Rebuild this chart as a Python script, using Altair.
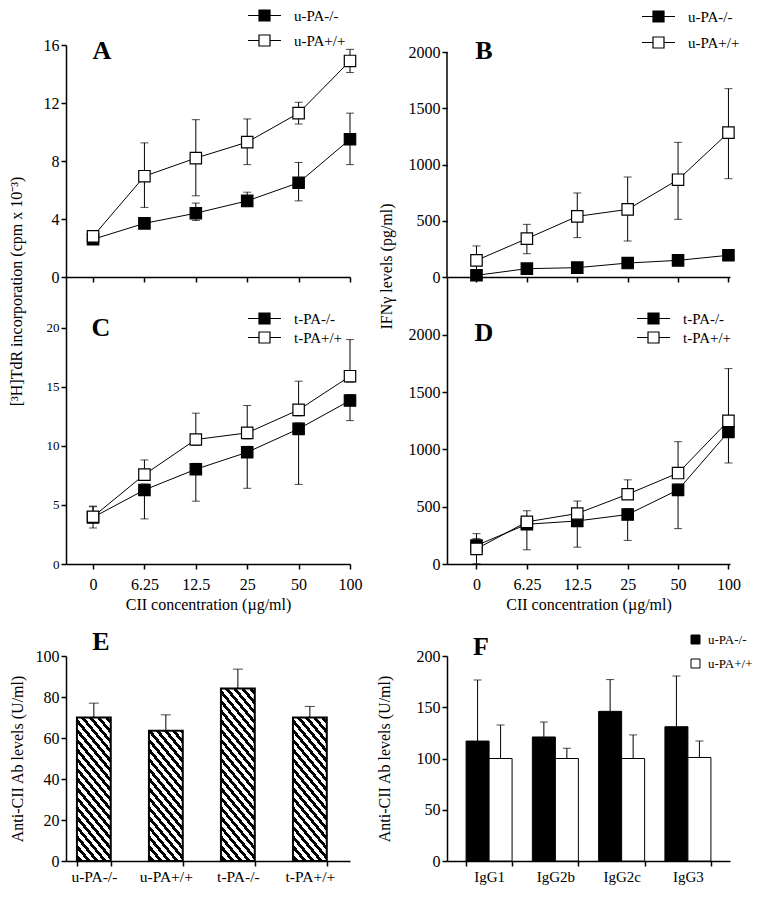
import altair as alt
import pandas as pd

FONT = "Liberation Serif"

# ---------------- data ----------------
conc = ["0", "6.25", "12.5", "25", "50", "100"]
upa_names = ["u-PA-/-", "u-PA+/+"]
tpa_names = ["t-PA-/-", "t-PA+/+"]

# Panel A: [3H]TdR incorporation (cpm x 10^-3), u-PA
a_ko = [2.6, 3.7, 4.4, 5.25, 6.5, 9.5]
a_ko_lo = [0.3, 0.2, 0.5, 0.3, 1.25, 1.75]
a_ko_hi = [0.3, 0.2, 0.7, 0.6, 1.4, 1.8]
a_wt = [2.8, 6.95, 8.2, 9.3, 11.3, 14.9]
a_wt_lo = [0.3, 2.15, 2.6, 1.55, 0.75, 0.8]
a_wt_hi = [0.4, 2.3, 2.65, 1.6, 0.75, 0.8]

# Panel B: IFNg (pg/ml), u-PA
b_ko = [15, 74, 83, 124, 148, 193]
b_ko_lo = [10, 15, 15, 20, 20, 25]
b_ko_hi = [10, 15, 15, 20, 20, 25]
b_wt = [148, 341, 539, 601, 865, 1283]
b_wt_lo = [128, 134, 189, 281, 352, 409]
b_wt_hi = [128, 127, 208, 288, 332, 391]

# Panel C: [3H]TdR incorporation, t-PA
c_ko = [3.95, 6.27, 8.02, 9.46, 11.44, 13.84]
c_ko_lo = [0.9, 2.45, 2.7, 3.05, 4.7, 1.7]
c_ko_hi = [0.9, 0.5, 0.5, 0.5, 0.5, 0.5]
c_wt = [4.0, 7.57, 10.54, 11.1, 13.05, 15.9]
c_wt_lo = [0.5, 0.5, 0.5, 0.5, 0.5, 0.5]
c_wt_hi = [0.9, 1.24, 2.23, 2.32, 2.43, 3.1]

# Panel D: IFNg (pg/ml), t-PA
d_ko = [162, 347, 376, 432, 647, 1153]
d_ko_lo = [160, 223, 229, 226, 338, 271]
d_ko_hi = [60, 50, 50, 50, 50, 50]
d_wt = [132, 368, 441, 609, 794, 1250]
d_wt_lo = [30, 30, 30, 30, 30, 30]
d_wt_hi = [133, 97, 109, 126, 274, 456]

# Panel E: anti-CII Ab levels (U/ml)
e_groups = ["u-PA-/-", "u-PA+/+", "t-PA-/-", "t-PA+/+"]
e_vals = [70, 63.5, 84.2, 70]
e_err = [7, 7.8, 9.4, 5.4]

# Panel F: anti-CII Ab isotypes (U/ml)
f_iso = ["IgG1", "IgG2b", "IgG2c", "IgG3"]
f_ko = [117, 121, 146, 131]
f_ko_err = [59.6, 14.6, 31, 49.5]
f_wt = [100, 100, 100, 101]
f_wt_err = [32.7, 10, 23, 16]

# ---------------- helpers ----------------
LEG_PATH = "M-3,0H-1M1,0H3M-1,-1H1V1H-1Z"


def ax(**kw):
    base = dict(domainColor="black", tickColor="black", labelColor="black",
                titleColor="black", grid=False, labelFont=FONT, titleFont=FONT,
                titleFontWeight="normal", domainWidth=1.5, tickWidth=1.5,
                tickSize=5, labelFontSize=16, titleFontSize=16)
    base.update(kw)
    return alt.Axis(**base)


def line_df(names, ko, ko_lo, ko_hi, wt, wt_lo, wt_hi):
    rows = []
    for name, v, lo, hi in [(names[0], ko, ko_lo, ko_hi), (names[1], wt, wt_lo, wt_hi)]:
        for c, vv, l, h in zip(conc, v, lo, hi):
            rows.append({"conc": c, "series": name, "val": vv, "lo": vv - l, "hi": vv + h})
    return pd.DataFrame(rows)


def letter_layer(letter, lx, ly):
    return alt.Chart(pd.DataFrame({"t": [letter]})).mark_text(
        font=FONT, fontSize=26, fontWeight="bold", color="black",
        align="center", baseline="middle").encode(
        text="t:N", x=alt.value(lx), y=alt.value(ly))


def line_panel(df, names, letter, lpos, width, height, ydom, yticks, ylab_size,
               x_pad, x_align, show_x, ytitle, title_y, title_pad,
               leg_x, leg_y, leg_row_pad, axis_top=None):
    xscale = alt.Scale(type="point", domain=conc, padding=x_pad, align=x_align)
    xaxis = ax(labels=show_x, title="CII concentration (µg/ml)" if show_x else None,
               labelAngle=0, labelPadding=7, titlePadding=4)
    X = alt.X("conc:N", sort=conc, scale=xscale, axis=xaxis)
    yscale = alt.Scale(domain=ydom, nice=False, zero=True)
    yaxis_kw = dict(values=yticks, title=ytitle, labelFontSize=ylab_size,
                    labelPadding=2, titlePadding=title_pad, format="d",
                    domain=axis_top is None)
    if title_y is not None:
        yaxis_kw["titleY"] = title_y
    yaxis = ax(**yaxis_kw)

    def Y(field):
        return alt.Y(field, type="quantitative", scale=yscale, axis=yaxis)

    base = alt.Chart(df)
    line = base.mark_line(color="black", strokeWidth=1).encode(
        x=X, y=Y("val"), detail="series:N")
    rule = base.mark_rule(color="black", strokeWidth=1).encode(
        x=X, y=Y("lo"), y2="hi:Q")
    cap_lo = base.mark_tick(color="black", thickness=1, size=8, orient="horizontal").encode(
        x=X, y=Y("lo"))
    cap_hi = base.mark_tick(color="black", thickness=1, size=8, orient="horizontal").encode(
        x=X, y=Y("hi"))
    pts = base.mark_point(shape="square", filled=True, size=130, stroke="black",
                          strokeWidth=1.2, opacity=1).encode(
        x=X, y=Y("val"),
        fill=alt.Fill("series:N", scale=alt.Scale(domain=names, range=["black", "white"]),
                      legend=alt.Legend(title=None, orient="none", legendX=leg_x,
                                        legendY=leg_y, symbolType=LEG_PATH,
                                        symbolSize=121, symbolStrokeColor="black",
                                        symbolStrokeWidth=1.2, labelFont=FONT,
                                        labelFontSize=15, labelColor="black",
                                        labelOffset=22, rowPadding=leg_row_pad,
                                        padding=0)))
    layers = [line, rule, cap_lo, cap_hi, pts, letter_layer(letter, *lpos)]
    if axis_top is not None:
        ydf = pd.DataFrame({"y0": [0], "y1": [axis_top]})
        layers.append(alt.Chart(ydf).mark_rule(color="black", strokeWidth=1.5).encode(
            x=alt.value(0), y=Y("y0"), y2="y1:Q"))
    return alt.layer(*layers).properties(width=width, height=height)


def hatch(w, h, m=1.2, period=6.2, dark=0.47):
    k = (m * w + h) / (m * m * w * w + h * h)
    dist = (m * w + h) / (1 + m * m) ** 0.5
    n = dist / period
    stops = [alt.GradientStop(color="white", offset=0)]
    i = 0
    while True:
        s = i / n
        if s >= 1:
            break
        a = s + (0.5 - dark / 2) / n
        b = s + (0.5 + dark / 2) / n
        for off, col in [(a, "white"), (a, "black"), (b, "black"), (b, "white")]:
            if off <= 1:
                stops.append(alt.GradientStop(color=col, offset=round(off, 5)))
        i += 1
    stops.append(alt.GradientStop(color="white", offset=1))
    return alt.LinearGradient(gradient="linear", stops=stops, x1=0, y1=1,
                              x2=k * m * w, y2=1 - k * h)


# ---------------- panels A-D ----------------
W_L, W_R = 284, 283
H_TOP, H_MID, H_BOT = 232, 287, 205
GAP = 92
LEG_TOP = -37

dfA = line_df(upa_names, a_ko, a_ko_lo, a_ko_hi, a_wt, a_wt_lo, a_wt_hi)
dfB = line_df(upa_names, b_ko, b_ko_lo, b_ko_hi, b_wt, b_wt_lo, b_wt_hi)
dfC = line_df(tpa_names, c_ko, c_ko_lo, c_ko_hi, c_wt, c_wt_lo, c_wt_hi)
dfD = line_df(tpa_names, d_ko, d_ko_lo, d_ko_hi, d_wt, d_wt_lo, d_wt_hi)

A = line_panel(dfA, upa_names, "A", (36, 6), W_L, H_TOP, [0, 16], [0, 4, 8, 12, 16], 16,
               0.263, 1.0, False, "[³H]TdR incorporation (cpm x 10⁻³)", 246, 19,
               191, LEG_TOP, 8)
B = line_panel(dfB, upa_names, "B", (37, 6), W_R, H_TOP, [0, 2000 * H_TOP / 225],
               [0, 500, 1000, 1500, 2000], 16, 0.308, 0.95, False,
               "IFNγ levels (pg/ml)", 221, 14, 204, LEG_TOP + 1, 9, axis_top=2000)
C = line_panel(dfC, tpa_names, "C", (35, 51), W_L, H_MID, [0, 24.3], [0, 5, 10, 15, 20], 13,
               0.263, 1.0, True, None, None, 10, 191, 34, 2)
D = line_panel(dfD, tpa_names, "D", (37, 56), W_R, H_MID, [0, 2506],
               [0, 500, 1000, 1500, 2000], 16, 0.308, 0.95, True, None, None, 10,
               199, 34, 2)

# ---------------- panel E ----------------
e_pi, e_po, e_al = 0.53, 0.237, 0.32
e_step = W_L / (4 - e_pi + 2 * e_po)
e_bw = e_step * (1 - e_pi)
dfE = pd.DataFrame({"group": e_groups, "val": e_vals,
                    "hi": [v + e for v, e in zip(e_vals, e_err)]})
eX = alt.X("group:N", sort=e_groups,
           scale=alt.Scale(domain=e_groups, paddingInner=e_pi, paddingOuter=e_po, align=e_al),
           axis=ax(title=None, tickBand="extent", labelAngle=0, labelPadding=3,
                   labelFontSize=15.5))
eYs = alt.Scale(domain=[0, 100], nice=False)
eYa = ax(values=[0, 20, 40, 60, 80, 100], title="Anti-CII Ab levels (U/ml)",
         labelPadding=2, titlePadding=10, format="d")
e_layers = []
for g, v in zip(e_groups, e_vals):
    e_layers.append(alt.Chart(dfE).transform_filter(alt.datum.group == g).mark_bar(
        fill=hatch(e_bw, v * H_BOT / 100), stroke="black", strokeWidth=2).encode(
        x=eX, y=alt.Y("val:Q", scale=eYs, axis=eYa)))
e_layers.append(alt.Chart(dfE).mark_rule(color="black", strokeWidth=1).encode(
    x=eX, y=alt.Y("val:Q", scale=eYs, axis=eYa), y2="hi:Q"))
e_layers.append(alt.Chart(dfE).mark_tick(color="black", thickness=1, size=10,
                                         orient="horizontal").encode(
    x=eX, y=alt.Y("hi:Q", scale=eYs, axis=eYa)))
e_layers.append(letter_layer("E", 35, -14))
E = alt.layer(*e_layers).properties(width=W_L, height=H_BOT)

# ---------------- panel F ----------------
rows = []
for name, vals, errs in [(upa_names[0], f_ko, f_ko_err), (upa_names[1], f_wt, f_wt_err)]:
    for iso, v, e in zip(f_iso, vals, errs):
        rows.append({"iso": iso, "series": name, "val": v, "hi": v + e})
dfF = pd.DataFrame(rows)
fX = alt.X("iso:N", sort=f_iso,
           scale=alt.Scale(domain=f_iso, paddingInner=0.306, paddingOuter=0.288),
           axis=ax(title=None, tickBand="extent", labelAngle=0, labelPadding=3,
                   labelFontSize=15))
fXo = alt.XOffset("series:N", sort=upa_names,
                  scale=alt.Scale(domain=upa_names, paddingInner=0, paddingOuter=0))
fYs = alt.Scale(domain=[0, 200], nice=False)
fYa = ax(values=[0, 50, 100, 150, 200], title="Anti-CII Ab levels (U/ml)",
         labelPadding=2, titlePadding=24, format="d")
f_bars = alt.Chart(dfF).mark_bar(stroke="black", strokeWidth=1).encode(
    x=fX, xOffset=fXo, y=alt.Y("val:Q", scale=fYs, axis=fYa),
    fill=alt.Fill("series:N", scale=alt.Scale(domain=upa_names, range=["black", "white"]),
                  legend=alt.Legend(title=None, orient="none", legendX=242, legendY=-23,
                                    symbolType="square", symbolSize=81,
                                    symbolStrokeColor="black", symbolStrokeWidth=1,
                                    labelFont=FONT, labelFontSize=13, labelColor="black",
                                    labelOffset=6, rowPadding=10, padding=0)))
f_rule = alt.Chart(dfF).mark_rule(color="black", strokeWidth=1).encode(
    x=fX, xOffset=fXo, y=alt.Y("val:Q", scale=fYs, axis=fYa), y2="hi:Q")
f_cap = alt.Chart(dfF).mark_tick(color="black", thickness=1, size=8,
                                 orient="horizontal").encode(
    x=fX, xOffset=fXo, y=alt.Y("hi:Q", scale=fYs, axis=fYa))
F = alt.layer(f_rule, f_cap, f_bars, letter_layer("F", 34, -9)).properties(
    width=W_R, height=H_BOT)


# empty spacer cells that hold the gap between the C/D row and the E/F row
def spacer(w):
    return alt.Chart(pd.DataFrame({"s": [0]})).mark_point(opacity=0).encode(
        x=alt.X("s:Q", axis=None), y=alt.Y("s:Q", axis=None)).properties(width=w, height=GAP)


chart = alt.concat(A, B, C, D, spacer(W_L), spacer(W_R), E, F, columns=2,
                   spacing={"row": 0, "column": 97}, bounds="flush")
chart = chart.resolve_scale(fill="independent").resolve_legend(fill="independent")

chart = chart.properties(
    padding={"left": 0, "top": 0, "right": 0, "bottom": 0},
    background="white",
).configure_view(stroke=None)

chart.save("out.html", embed_options={"renderer": "svg", "actions": False})
